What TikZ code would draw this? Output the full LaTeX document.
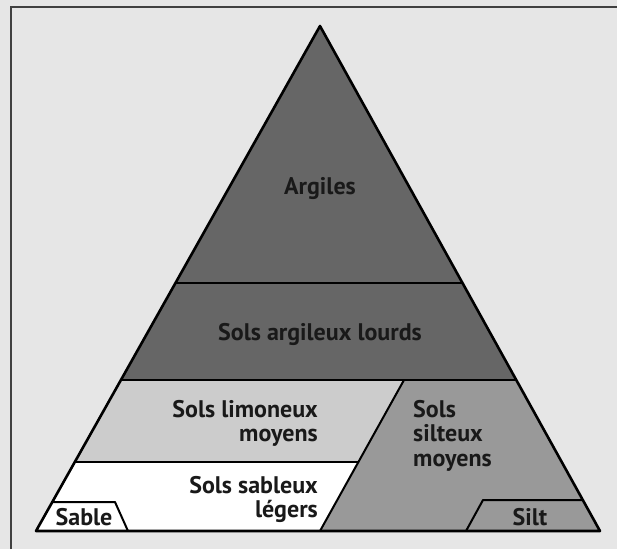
\documentclass[tikz,border=0pt]{standalone}
\usepackage{fontspec}
\setmainfont{PT Sans}
\definecolor{fond}{HTML}{E6E6E6}
\definecolor{fonce}{HTML}{666666}
\definecolor{moyen}{HTML}{999999}
\definecolor{clair}{HTML}{CCCCCC}
\tikzset{
  trait/.style={line width=2pt, line join=round},
  etiq/.style={inner sep=0pt, font=\fontsize{24}{24.5}\selectfont\bfseries, text=black!90},
}
\begin{document}
\begin{tikzpicture}[x=1pt,y=-1pt]
    \useasboundingbox (0,0) rectangle (617,549);
    \fill[fond] (0,0) rectangle (617,549);
    \draw[line width=1.5pt, black!75] (11,549) -- (11,7) -- (617,7);
    % sommets du triangle
    \coordinate (A) at (320,26);
    \coordinate (B) at (36,531);
    \coordinate (C) at (600,531);
    % zones
    \fill[fonce] (A) -- (B) -- (C) -- cycle;
    \fill[clair] (120.9,380) -- (404,380) -- (358.4,462) -- (74.8,462) -- cycle;
    \fill[white] (74.8,462) -- (358.4,462) -- (320,531) -- (B) -- cycle;
    \fill[moyen] (404,380) -- (516.3,380) -- (C) -- (320,531) -- cycle;
    \draw[trait] (175.5,283) -- (462.5,283);
    \draw[trait] (120.9,380) -- (516.3,380);
    \draw[trait] (74.8,462) -- (358.4,462);
    \draw[trait] (404,380) -- (320,531);
    \draw[trait] (52.3,502) -- (115,502) -- (128,531);
    \draw[trait] (466,531) -- (483,500) -- (582.8,500);
    \draw[trait, line width=2.6pt] (A) -- (B) -- (C) -- cycle;
    % textes
    \node[etiq, anchor=base] (argiles) at (320,194) {Argiles};
    \node[etiq, anchor=base] (lourds) at (320,340) {Sols argileux lourds};
    \node[etiq, anchor=north east, align=right] (limoneux) at (318,400) {Sols limoneux\\moyens};
    \node[etiq, anchor=north east, align=right] (sableux) at (318,476) {Sols sableux\\légers};
    \node[etiq, anchor=north west, align=left] (silteux) at (413,400) {Sols\\silteux\\moyens};
    \node[etiq, anchor=base] (sable) at (84,525) {Sable};
    \node[etiq, anchor=base] (silt) at (530,525) {Silt};
\end{tikzpicture}
\end{document}
